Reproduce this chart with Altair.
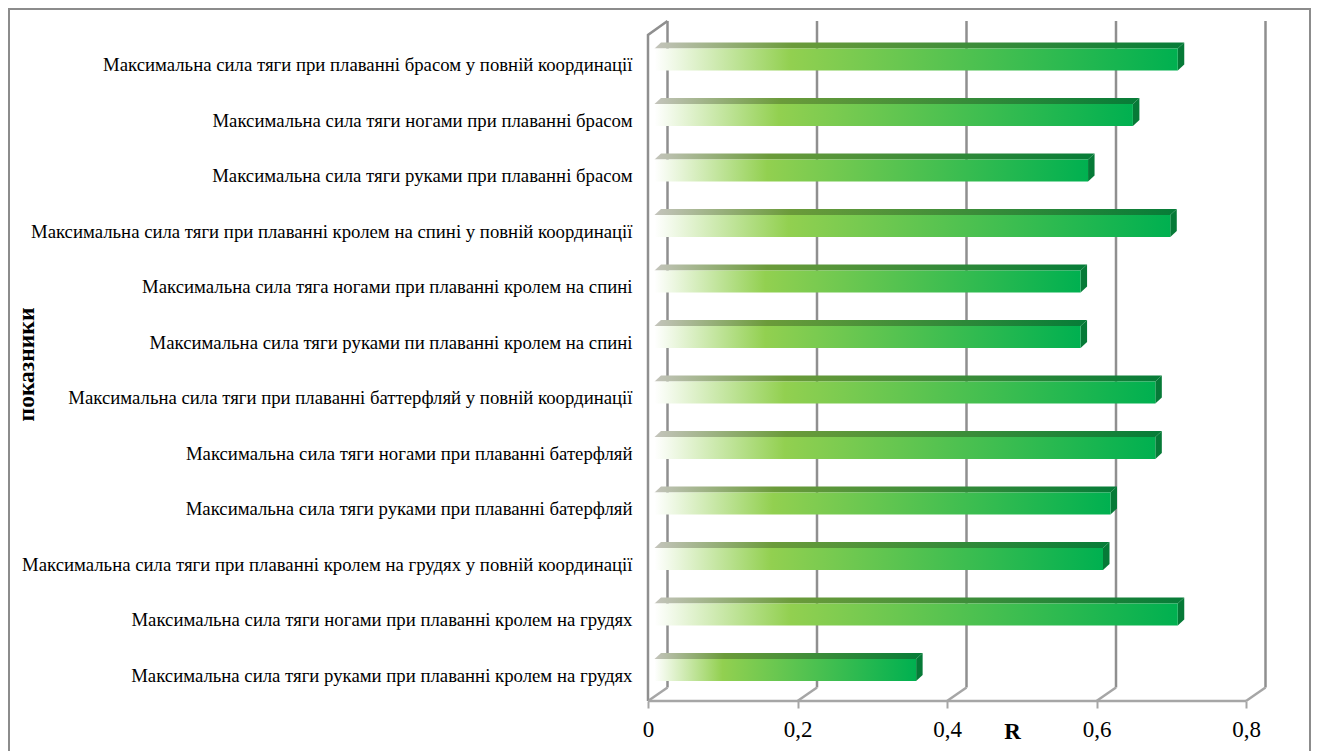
import altair as alt
import pandas as pd

labels = [
    "Максимальна сила тяги руками при плаванні кролем на грудях",
    "Максимальна сила тяги ногами при плаванні кролем на грудях",
    "Максимальна сила тяги при плаванні кролем на грудях у повній координації",
    "Максимальна сила тяги руками при плаванні батерфляй",
    "Максимальна сила тяги ногами при плаванні батерфляй",
    "Максимальна сила тяги при плаванні баттерфляй у повній координації",
    "Максимальна сила тяги руками пи плаванні кролем на спині",
    "Максимальна сила тяга ногами при плаванні кролем на спині",
    "Максимальна сила тяги при плаванні кролем на спині у повній координації",
    "Максимальна сила тяги руками при плаванні брасом",
    "Максимальна сила тяги ногами при плаванні брасом",
    "Максимальна сила тяги при плаванні брасом у повній координації",
]
values = [0.35, 0.70, 0.60, 0.61, 0.67, 0.67, 0.57, 0.57, 0.69, 0.58, 0.64, 0.70]
ticks = [0, 0.2, 0.4, 0.6, 0.8]

PX_X = 598 / 0.8
PX_Y = 55.5
W, H = 619, 680
xdom = [0, W / PX_X]
ydom = [-31 / PX_Y, (H - 31) / PX_Y]
x_start = 6.5 / PX_X
bar_dx = 6.5 / PX_X
bar_half = 11 / PX_Y
bar_dy = 6 / PX_Y
wall_dx = 19.5 / PX_X
floor_y = ydom[0]
back_y = ydom[0] + 13.5 / PX_Y
top_y = ydom[1]
left_front_top = top_y - 14 / PX_Y

rows = list(range(len(values)))
xs = alt.Scale(domain=xdom, nice=False, zero=False)
ys = alt.Scale(domain=ydom, nice=False, zero=False)

label_js = "[" + ",".join(f'"{s}"' for s in labels) + "]"
x_axis = alt.Axis(
    values=ticks, grid=False, domain=False, tickColor="#a6a6a6", tickWidth=2, tickSize=7,
    labelFont="Liberation Serif", labelFontSize=23, labelColor="#000000", labelPadding=10,
    labelExpr="datum.value == 0 ? '0' : replace(format(datum.value,'.1f'),'.',',')",
    labelFlush=False, labelOverlap=False,
    title="R", titleFont="Liberation Serif", titleFontSize=23, titleFontWeight="bold",
    titleColor="#000000", titleX=364, titleY=30, titleAnchor="middle", titleBaseline="middle",
)
y_axis = alt.Axis(
    values=rows, grid=False, domain=False, ticks=False,
    labelFont="Liberation Serif", labelFontSize=18.75, labelColor="#000000", labelPadding=16,
    labelLimit=700, labelOffset=5, labelOverlap=False,
    labelExpr=f"{label_js}[datum.value]",
    title="показники", titleFont="Liberation Serif", titleFontSize=23.5, titleFontWeight="bold",
    titleColor="#000000", titleX=-610, titleY=343, titleAnchor="middle",
)
X = lambda f="x": alt.X(f"{f}:Q", scale=xs, axis=x_axis)
Y = lambda f="y": alt.Y(f"{f}:Q", scale=ys, axis=y_axis)

GRAY = "#8f8f8f"
LIGHT = "#a6a6a6"

def lin(stops):
    return alt.LinearGradient(
        gradient="linear", x1=0, y1=0, x2=1, y2=0,
        stops=[alt.GradientStop(offset=o, color=c) for o, c in stops],
    )

front_grad = lin([(0, "#ffffff"), (0.26, "#92d050"), (1, "#00b050")])
top_grad = lin([(0, "#c4c4bc"), (0.26, "#6b9b3a"), (1, "#067c38")])

back = pd.DataFrame({"x": [t + wall_dx for t in ticks], "y": back_y, "y2": top_y})
back_rules = alt.Chart(back).mark_rule(color=GRAY, strokeWidth=2.5).encode(
    x=X(), y=Y(), y2="y2:Q")

floor = pd.DataFrame(
    [{"k": i, "x": t, "y": floor_y} for i, t in enumerate(ticks)]
    + [{"k": i, "x": t + wall_dx, "y": back_y} for i, t in enumerate(ticks)]
)
floor_lines = alt.Chart(floor).mark_line(color=LIGHT, strokeWidth=2.5).encode(
    x=X(), y=Y(), detail="k:N", order="x:Q")

wall = pd.DataFrame({"x": [0, 0, wall_dx], "y": [floor_y, left_front_top, top_y], "o": [0, 1, 2]})
wall_line = alt.Chart(wall).mark_line(color=GRAY, strokeWidth=2.5).encode(
    x=X(), y=Y(), order="o:Q")

axis_df = pd.DataFrame({"x": [0], "x2": [0.8], "y": [floor_y]})
axis_line = alt.Chart(axis_df).mark_rule(color=LIGHT, strokeWidth=2.5).encode(
    x=X(), x2="x2:Q", y=Y())

bars = pd.DataFrame({
    "row": rows,
    "x": [x_start] * len(rows),
    "x2": [x_start + v for v in values],
    "y": [r - bar_half for r in rows],
    "y2": [r + bar_half for r in rows],
})
front = alt.Chart(bars).mark_rect(color=front_grad).encode(
    x=X(), x2="x2:Q", y=Y(), y2="y2:Q")

top_rows = []
side_rows = []
for r, v in zip(rows, values):
    top_rows += [
        {"row": r, "y": r + bar_half, "x": x_start, "x2": x_start + v},
        {"row": r, "y": r + bar_half + bar_dy, "x": x_start + bar_dx, "x2": x_start + v + bar_dx},
    ]
    side_rows += [
        {"row": r, "x": x_start + v, "y": r - bar_half, "y2": r + bar_half},
        {"row": r, "x": x_start + v + bar_dx, "y": r - bar_half + bar_dy, "y2": r + bar_half + bar_dy},
    ]
top_face = alt.Chart(pd.DataFrame(top_rows)).mark_area(
    color=top_grad, orient="horizontal", interpolate="linear"
).encode(y=Y(), x=X(), x2="x2:Q", detail="row:N")
side_face = alt.Chart(pd.DataFrame(side_rows)).mark_area(
    color="#067a37", orient="vertical", interpolate="linear"
).encode(x=X(), y=Y(), y2="y2:Q", detail="row:N")

frame = alt.Chart(pd.DataFrame({"k": [0]})).mark_rect(
    fill=None, stroke="#8c8c8c", strokeWidth=2
).encode(
    x=alt.value(-639), x2=alt.value(662), y=alt.value(-12), y2=alt.value(760)
)

chart = alt.layer(
    frame, back_rules, floor_lines, wall_line, axis_line, side_face, top_face, front
).properties(
    width=W, height=H, padding={"left": 640, "top": 13, "right": 44, "bottom": 50},
    autosize=alt.AutoSizeParams(type="none"),
    background="#ffffff",
).configure_view(stroke=None)

chart.save("out.html", embed_options={"renderer": "svg", "actions": False})
